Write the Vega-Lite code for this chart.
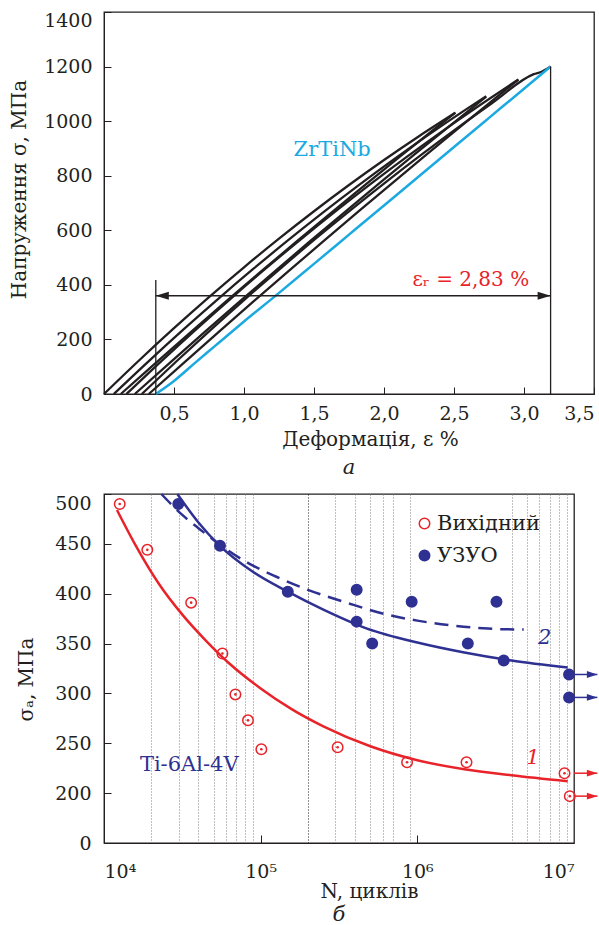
{
  "$schema": "https://vega.github.io/schema/vega-lite/v6.json",
  "padding": {"left": 8, "top": 10, "right": 0, "bottom": 0},
  "background": "white",
  "config": {
    "font": "DejaVu Serif",
    "view": {"stroke": "#231f20", "strokeWidth": 1.3},
    "axis": {"labelFont": "DejaVu Serif", "labelFontSize": 19, "labelColor": "#231f20", "titleFont": "DejaVu Serif", "titleFontSize": 20, "titleFontWeight": "normal", "titleColor": "#231f20", "domainColor": "#231f20", "tickColor": "#231f20", "grid": false, "tickSize": -7},
    "title": {"font": "DejaVu Serif", "fontSize": 21, "fontWeight": "normal", "fontStyle": "italic", "color": "#231f20"},
    "legend": {"labelFont": "DejaVu Serif"}
  },
  "datasets": {
    "stress": [
      {"id": "L1", "e": 0, "s": 0}, {"id": "L1", "e": 0.25, "s": 122.8}, {"id": "L1", "e": 0.5, "s": 241.1}, {"id": "L1", "e": 0.75, "s": 355}, {"id": "L1", "e": 1, "s": 464.4}, {"id": "L1", "e": 1.25, "s": 569.4}, {"id": "L1", "e": 1.5, "s": 669.9}, {"id": "L1", "e": 1.75, "s": 766}, {"id": "L1", "e": 2, "s": 857.6}, {"id": "L1", "e": 2.25, "s": 944.8}, {"id": "L1", "e": 2.51, "s": 1030.7},
      {"id": "U1", "e": 0.12, "s": 0}, {"id": "U1", "e": 0.37, "s": 114.3}, {"id": "U1", "e": 0.62, "s": 227}, {"id": "U1", "e": 0.87, "s": 338.3}, {"id": "U1", "e": 1.12, "s": 448.1}, {"id": "U1", "e": 1.37, "s": 556.4}, {"id": "U1", "e": 1.62, "s": 663.2}, {"id": "U1", "e": 1.87, "s": 768.6}, {"id": "U1", "e": 2.12, "s": 872.4}, {"id": "U1", "e": 2.37, "s": 974.8}, {"id": "U1", "e": 2.51, "s": 1031.4},
      {"id": "L2", "e": 0.07, "s": 0}, {"id": "L2", "e": 0.32, "s": 120.6}, {"id": "L2", "e": 0.57, "s": 237.5}, {"id": "L2", "e": 0.82, "s": 350.6}, {"id": "L2", "e": 1.07, "s": 460}, {"id": "L2", "e": 1.32, "s": 565.6}, {"id": "L2", "e": 1.57, "s": 667.5}, {"id": "L2", "e": 1.82, "s": 765.6}, {"id": "L2", "e": 2.07, "s": 860}, {"id": "L2", "e": 2.32, "s": 950.6}, {"id": "L2", "e": 2.57, "s": 1037.5}, {"id": "L2", "e": 2.73, "s": 1091.1},
      {"id": "U2", "e": 0.22, "s": 0}, {"id": "U2", "e": 0.47, "s": 114.4}, {"id": "U2", "e": 0.72, "s": 227.4}, {"id": "U2", "e": 0.97, "s": 339.2}, {"id": "U2", "e": 1.22, "s": 449.7}, {"id": "U2", "e": 1.47, "s": 558.9}, {"id": "U2", "e": 1.72, "s": 666.8}, {"id": "U2", "e": 1.97, "s": 773.5}, {"id": "U2", "e": 2.22, "s": 878.8}, {"id": "U2", "e": 2.47, "s": 982.9}, {"id": "U2", "e": 2.73, "s": 1089.7},
      {"id": "L3", "e": 0.16, "s": 0}, {"id": "L3", "e": 0.41, "s": 120.8}, {"id": "L3", "e": 0.66, "s": 238}, {"id": "L3", "e": 0.91, "s": 351.8}, {"id": "L3", "e": 1.16, "s": 462}, {"id": "L3", "e": 1.41, "s": 568.8}, {"id": "L3", "e": 1.66, "s": 672}, {"id": "L3", "e": 1.91, "s": 771.8}, {"id": "L3", "e": 2.16, "s": 868}, {"id": "L3", "e": 2.41, "s": 960.8}, {"id": "L3", "e": 2.66, "s": 1050}, {"id": "L3", "e": 2.96, "s": 1152.5},
      {"id": "U3", "e": 0.32, "s": 0}, {"id": "U3", "e": 0.57, "s": 114.4}, {"id": "U3", "e": 0.82, "s": 227.8}, {"id": "U3", "e": 1.07, "s": 340}, {"id": "U3", "e": 1.32, "s": 451.1}, {"id": "U3", "e": 1.57, "s": 561.1}, {"id": "U3", "e": 1.82, "s": 670}, {"id": "U3", "e": 2.07, "s": 777.7}, {"id": "U3", "e": 2.32, "s": 884.4}, {"id": "U3", "e": 2.57, "s": 989.9}, {"id": "U3", "e": 2.82, "s": 1094.4}, {"id": "U3", "e": 2.96, "s": 1152.4},
      {"id": "L4", "e": 0.27, "s": 0}, {"id": "L4", "e": 0.52, "s": 120.9}, {"id": "L4", "e": 0.77, "s": 238.6}, {"id": "L4", "e": 1.02, "s": 353.2}, {"id": "L4", "e": 1.27, "s": 464.5}, {"id": "L4", "e": 1.52, "s": 572.7}, {"id": "L4", "e": 1.77, "s": 677.6}, {"id": "L4", "e": 2.02, "s": 779.4}, {"id": "L4", "e": 2.27, "s": 878}, {"id": "L4", "e": 2.52, "s": 973.4}, {"id": "L4", "e": 2.77, "s": 1065.6}, {"id": "L4", "e": 3.07, "s": 1172.1}, {"id": "L4", "e": 3.13, "s": 1182}, {"id": "L4", "e": 3.19, "s": 1200}
    ],
    "cyan": [
      {"e": 0.37, "s": 0}, {"e": 0.5, "s": 48}, {"e": 0.65, "s": 114}, {"e": 0.8, "s": 179}, {"e": 1.0, "s": 266}, {"e": 1.216, "s": 356}, {"e": 1.5, "s": 477}, {"e": 1.75, "s": 584}, {"e": 2.0, "s": 691}, {"e": 2.25, "s": 798}, {"e": 2.5, "s": 905}, {"e": 2.75, "s": 1012}, {"e": 3.0, "s": 1119}, {"e": 3.19, "s": 1200}
    ],
    "vlines": [{"e": 0.37, "s0": 0, "s1": 418}, {"e": 3.19, "s0": 0, "s1": 1200}],
    "harrow": [{"e0": 0.37, "e1": 3.19, "s": 360}],
    "heads": [{"e": 0.37, "s": 360, "dir": "left"}, {"e": 3.19, "s": 360, "dir": "right"}],
    "fits": [
      {"fit": "1", "N": 12100, "s": 484}, {"fit": "1", "N": 15850, "s": 449}, {"fit": "1", "N": 22390, "s": 410}, {"fit": "1", "N": 31620, "s": 379}, {"fit": "1", "N": 44670, "s": 353}, {"fit": "1", "N": 63100, "s": 330}, {"fit": "1", "N": 100000, "s": 305}, {"fit": "1", "N": 158500, "s": 284}, {"fit": "1", "N": 251200, "s": 267}, {"fit": "1", "N": 501200, "s": 247}, {"fit": "1", "N": 1000000, "s": 233}, {"fit": "1", "N": 1995000, "s": 224}, {"fit": "1", "N": 3981000, "s": 218}, {"fit": "1", "N": 9120000, "s": 212},
      {"fit": "2", "N": 29380, "s": 500}, {"fit": "2", "N": 39810, "s": 472}, {"fit": "2", "N": 54950, "s": 448}, {"fit": "2", "N": 89130, "s": 422}, {"fit": "2", "N": 148900, "s": 402}, {"fit": "2", "N": 251200, "s": 384}, {"fit": "2", "N": 477500, "s": 365}, {"fit": "2", "N": 1000000, "s": 351}, {"fit": "2", "N": 1995000, "s": 341}, {"fit": "2", "N": 3981000, "s": 333}, {"fit": "2", "N": 9120000, "s": 326},
      {"fit": "2d", "N": 23230, "s": 500}, {"fit": "2d", "N": 31620, "s": 479}, {"fit": "2d", "N": 40640, "s": 465}, {"fit": "2d", "N": 56230, "s": 448}, {"fit": "2d", "N": 84920, "s": 430}, {"fit": "2d", "N": 125900, "s": 417}, {"fit": "2d", "N": 177800, "s": 407}, {"fit": "2d", "N": 369800, "s": 390}, {"fit": "2d", "N": 642700, "s": 379}, {"fit": "2d", "N": 1000000, "s": 373}, {"fit": "2d", "N": 1702000, "s": 368}, {"fit": "2d", "N": 2818000, "s": 365}, {"fit": "2d", "N": 4775000, "s": 364}
    ],
    "pts": [
      {"series": "Вихідний", "N": 12600, "s": 490}, {"series": "Вихідний", "N": 18900, "s": 444}, {"series": "Вихідний", "N": 36000, "s": 391}, {"series": "Вихідний", "N": 57000, "s": 340}, {"series": "Вихідний", "N": 69000, "s": 299}, {"series": "Вихідний", "N": 83000, "s": 273}, {"series": "Вихідний", "N": 101000, "s": 244}, {"series": "Вихідний", "N": 310000, "s": 246}, {"series": "Вихідний", "N": 860000, "s": 231}, {"series": "Вихідний", "N": 2060000, "s": 231}, {"series": "Вихідний", "N": 8700000, "s": 220}, {"series": "Вихідний", "N": 9400000, "s": 197},
      {"series": "УЗУО", "N": 29800, "s": 490}, {"series": "УЗУО", "N": 55000, "s": 448}, {"series": "УЗУО", "N": 149000, "s": 402}, {"series": "УЗУО", "N": 410000, "s": 404}, {"series": "УЗУО", "N": 410000, "s": 372}, {"series": "УЗУО", "N": 515000, "s": 350}, {"series": "УЗУО", "N": 920000, "s": 392}, {"series": "УЗУО", "N": 2100000, "s": 350}, {"series": "УЗУО", "N": 3200000, "s": 392}, {"series": "УЗУО", "N": 3560000, "s": 333}, {"series": "УЗУО", "N": 9300000, "s": 319}, {"series": "УЗУО", "N": 9300000, "s": 296}
    ],
    "runouts": [
      {"series": "УЗУО", "N": 10000000, "N2": 14100000, "s": 319}, {"series": "УЗУО", "N": 10000000, "N2": 14100000, "s": 296},
      {"series": "Вихідний", "N": 10000000, "N2": 14100000, "s": 220}, {"series": "Вихідний", "N": 10000000, "N2": 14100000, "s": 197}
    ]
  },
  "spacing": 9,
  "vconcat": [
    {
      "width": 490,
      "height": 382,
      "title": {"text": "а", "orient": "bottom", "offset": 8},
      "layer": [
        {
          "data": {"name": "stress"},
          "mark": {"type": "line", "color": "#231f20", "strokeWidth": 2.3, "interpolate": "monotone"},
          "encoding": {
            "x": {"field": "e", "type": "quantitative", "scale": {"domain": [0, 3.5], "nice": false},
                  "axis": {"values": [0.5, 1, 1.5, 2, 2.5, 3, 3.5], "labelExpr": "replace(format(datum.value, '.1f'), '.', ',')", "title": "Деформація, ε %", "titleX": 266, "labelPadding": 17, "titlePadding": 6, "labelFlush": true}},
            "y": {"field": "s", "type": "quantitative", "scale": {"domain": [0, 1400], "nice": false},
                  "axis": {"values": [0, 200, 400, 600, 800, 1000, 1200, 1400], "format": "d", "title": "Напруження σ, МПа", "titleY": 177, "labelPadding": 19, "titlePadding": 14, "labelOffset": {"condition": {"test": "datum.value == 1400", "value": 8}, "value": 0}}},
            "detail": {"field": "id", "type": "nominal"}
          }
        },
        {
          "data": {"name": "cyan"},
          "mark": {"type": "line", "color": "#1ba9e1", "strokeWidth": 2.5, "interpolate": "monotone"},
          "encoding": {"x": {"field": "e", "type": "quantitative"}, "y": {"field": "s", "type": "quantitative"}}
        },
        {
          "data": {"name": "vlines"},
          "mark": {"type": "rule", "color": "#231f20", "strokeWidth": 1.3},
          "encoding": {"x": {"field": "e", "type": "quantitative"}, "y": {"field": "s0", "type": "quantitative"}, "y2": {"field": "s1"}}
        },
        {
          "data": {"name": "harrow"},
          "mark": {"type": "rule", "color": "#231f20", "strokeWidth": 1.3},
          "encoding": {"x": {"field": "e0", "type": "quantitative"}, "x2": {"field": "e1"}, "y": {"field": "s", "type": "quantitative"}}
        },
        {
          "data": {"name": "heads"},
          "mark": {"type": "point", "filled": true, "color": "#231f20", "opacity": 1, "size": 169},
          "encoding": {
            "x": {"field": "e", "type": "quantitative"}, "y": {"field": "s", "type": "quantitative"},
            "shape": {"field": "dir", "type": "nominal", "scale": {"domain": ["left", "right"], "range": ["M0,0L2,-0.6L2,0.6Z", "M0,0L-2,-0.6L-2,0.6Z"]}, "legend": null}
          }
        },
        {
          "data": {"values": [{"e": 1.63, "s": 896, "t": "ZrTiNb"}]},
          "mark": {"type": "text", "color": "#1ba9e1", "fontSize": 21, "font": "DejaVu Serif"},
          "encoding": {"x": {"field": "e", "type": "quantitative"}, "y": {"field": "s", "type": "quantitative"}, "text": {"field": "t"}}
        },
        {
          "data": {"values": [{"e": 2.62, "s": 418, "t": "εᵣ = 2,83 %"}]},
          "mark": {"type": "text", "color": "#e8232a", "fontSize": 20, "font": "DejaVu Serif"},
          "encoding": {"x": {"field": "e", "type": "quantitative"}, "y": {"field": "s", "type": "quantitative"}, "text": {"field": "t"}}
        }
      ]
    },
    {
      "width": 470,
      "height": 349,
      "title": {"text": "б", "orient": "bottom", "offset": 3},
      "layer": [
        {
          "data": {"name": "fits"},
          "transform": [{"filter": "datum.fit == '1'"}],
          "mark": {"type": "line", "color": "#e8232a", "strokeWidth": 2.5, "interpolate": "monotone"},
          "encoding": {
            "x": {"field": "N", "type": "quantitative", "scale": {"type": "log", "domain": [10000, 10000000], "nice": false},
                  "axis": {
                    "values": [10000, 20000, 30000, 40000, 50000, 60000, 70000, 80000, 90000, 100000, 200000, 300000, 400000, 500000, 600000, 700000, 900000, 1000000, 4000000, 5000000, 6000000, 7000000, 8000000, 9000000, 10000000],
                    "labelExpr": "datum.value == 10000 ? '10⁴' : datum.value == 100000 ? '10⁵' : datum.value == 1000000 ? '10⁶' : datum.value == 10000000 ? '10⁷' : ''",
                    "labelOverlap": false, "labelFlush": true, "labelPadding": 27, "tickSize": -8,
                    "tickOpacity": {"condition": {"test": "datum.value == 100000 || datum.value == 1000000", "value": 1}, "value": 0},
                    "grid": true, "gridDash": [1, 2], "gridWidth": 1,
                    "gridColor": {"condition": {"test": "datum.value == 200000", "value": "#231f20"}, "value": "#808080"},
                    "gridOpacity": {"condition": {"test": "datum.value == 10000 || datum.value == 100000 || datum.value == 1000000 || datum.value == 10000000", "value": 0}, "value": 1},
                    "title": "N, циклів", "titleX": 265, "titlePadding": 0
                  }},
            "y": {"field": "s", "type": "quantitative", "scale": {"domain": [150, 500], "nice": false},
                  "axis": {"values": [150, 200, 250, 300, 350, 400, 450, 500], "labelExpr": "datum.value == 150 ? '0' : datum.label", "title": "σₐ, МПа", "titleY": 185, "labelPadding": 20, "titlePadding": 18, "labelOffset": {"condition": {"test": "datum.value == 500", "value": 9}, "value": 0}}}
          }
        },
        {
          "data": {"name": "fits"},
          "transform": [{"filter": "datum.fit == '2'"}],
          "mark": {"type": "line", "color": "#2e3192", "strokeWidth": 2.5, "interpolate": "monotone"},
          "encoding": {"x": {"field": "N", "type": "quantitative"}, "y": {"field": "s", "type": "quantitative"}}
        },
        {
          "data": {"name": "fits"},
          "transform": [{"filter": "datum.fit == '2d'"}],
          "mark": {"type": "line", "color": "#2e3192", "strokeWidth": 2.5, "strokeDash": [14, 8], "interpolate": "monotone"},
          "encoding": {"x": {"field": "N", "type": "quantitative"}, "y": {"field": "s", "type": "quantitative"}}
        },
        {
          "data": {"name": "runouts"},
          "mark": {"type": "rule", "strokeWidth": 1.5},
          "encoding": {
            "x": {"field": "N", "type": "quantitative"}, "x2": {"field": "N2"}, "y": {"field": "s", "type": "quantitative"},
            "color": {"condition": {"test": "datum.series == 'УЗУО'", "value": "#2e3192"}, "value": "#e8232a"}
          }
        },
        {
          "data": {"name": "runouts"},
          "mark": {"type": "point", "filled": true, "opacity": 1, "size": 110, "shape": "M0,0L-2,-0.65L-2,0.65Z"},
          "encoding": {
            "x": {"field": "N2", "type": "quantitative"}, "y": {"field": "s", "type": "quantitative"},
            "color": {"condition": {"test": "datum.series == 'УЗУО'", "value": "#2e3192"}, "value": "#e8232a"}
          }
        },
        {
          "data": {"name": "pts"},
          "mark": {"type": "point", "shape": "circle", "size": 110, "strokeWidth": 1.5, "opacity": 1},
          "encoding": {
            "x": {"field": "N", "type": "quantitative"}, "y": {"field": "s", "type": "quantitative"},
            "stroke": {"field": "series", "type": "nominal", "scale": {"domain": ["Вихідний", "УЗУО"], "range": ["#e8232a", "#2e3192"]},
                       "legend": {"title": null, "orient": "none", "legendX": 310, "legendY": 501, "labelFontSize": 21, "labelColor": "#231f20", "symbolSize": 110, "symbolStrokeWidth": 1.5, "rowPadding": 10, "labelOffset": 2}},
            "fill": {"field": "series", "type": "nominal", "scale": {"domain": ["Вихідний", "УЗУО"], "range": ["rgba(255,255,255,0)", "#2e3192"]},
                     "legend": {"title": null, "orient": "none", "legendX": 310, "legendY": 501, "labelFontSize": 21, "labelColor": "#231f20", "symbolSize": 110, "symbolStrokeWidth": 1.5, "rowPadding": 10, "labelOffset": 2}}
          }
        },
        {
          "data": {"name": "pts"},
          "transform": [{"filter": "datum.series == 'Вихідний'"}],
          "mark": {"type": "point", "shape": "circle", "filled": true, "size": 7, "color": "#e8232a", "opacity": 1},
          "encoding": {"x": {"field": "N", "type": "quantitative"}, "y": {"field": "s", "type": "quantitative"}}
        },
        {
          "data": {"values": [{"N": 35000, "s": 228, "t": "Ti-6Al-4V"}]},
          "mark": {"type": "text", "color": "#2e3192", "fontSize": 21, "font": "DejaVu Serif"},
          "encoding": {"x": {"field": "N", "type": "quantitative"}, "y": {"field": "s", "type": "quantitative"}, "text": {"field": "t"}}
        },
        {
          "data": {"values": [{"N": 5460000, "s": 235, "t": "1"}]},
          "mark": {"type": "text", "color": "#e8232a", "fontSize": 21, "fontStyle": "italic", "font": "DejaVu Serif"},
          "encoding": {"x": {"field": "N", "type": "quantitative"}, "y": {"field": "s", "type": "quantitative"}, "text": {"field": "t"}}
        },
        {
          "data": {"values": [{"N": 6500000, "s": 356, "t": "2"}]},
          "mark": {"type": "text", "color": "#2e3192", "fontSize": 21, "fontStyle": "italic", "font": "DejaVu Serif"},
          "encoding": {"x": {"field": "N", "type": "quantitative"}, "y": {"field": "s", "type": "quantitative"}, "text": {"field": "t"}}
        }
      ]
    }
  ]
}
